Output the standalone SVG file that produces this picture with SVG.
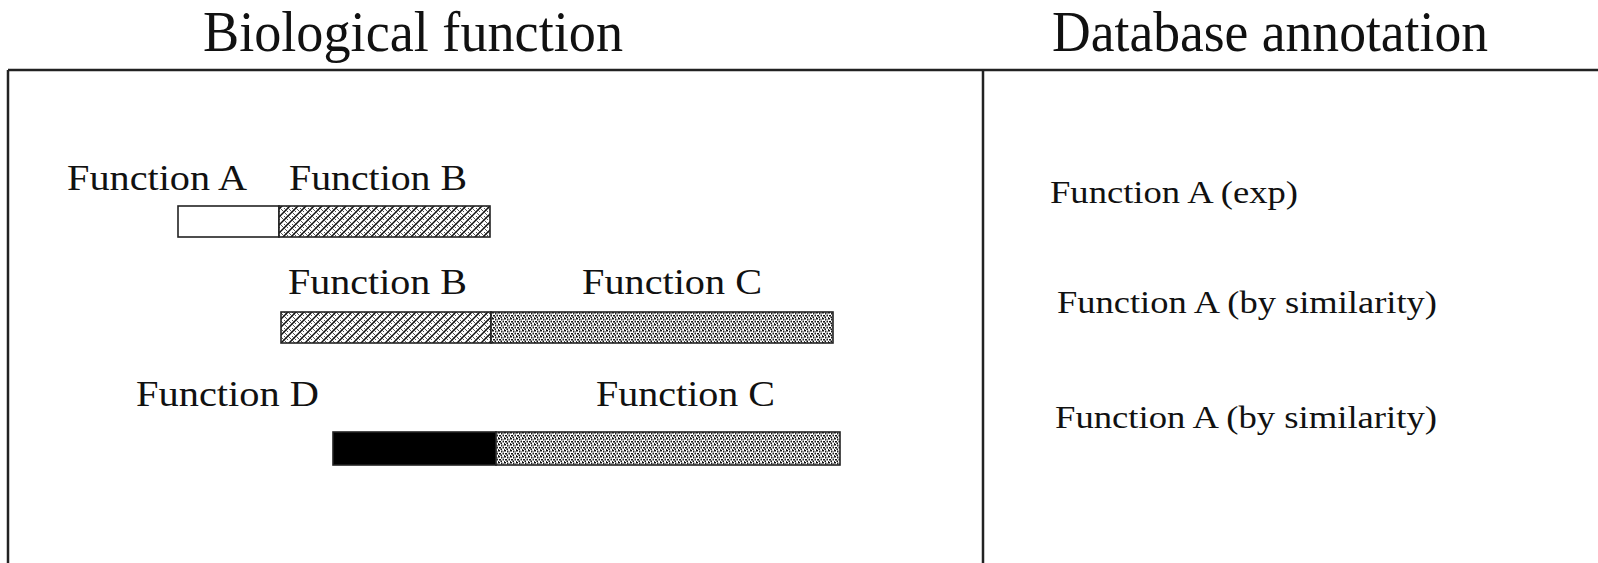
<svg xmlns="http://www.w3.org/2000/svg" width="1598" height="563" viewBox="0 0 1598 563">
  <style>
    .title { font-family: "Liberation Serif", "Times New Roman", serif; font-size: 56px; fill: #111; }
    .lbl { font-family: "Liberation Serif", "Times New Roman", serif; font-size: 35px; fill: #111; }
    .ann { font-family: "Liberation Serif", "Times New Roman", serif; font-size: 32px; fill: #111; }
    .frame { stroke: #222; stroke-width: 2.5; fill: none; }
    .bar { stroke: #222; stroke-width: 1.6; }
  </style>
  <defs>
    <pattern id="hatchB" patternUnits="userSpaceOnUse" width="8" height="8">
      <rect width="8" height="8" fill="#fff"/>
      <path d="M-2,10 L10,-2 M-6,6 L2,-2 M6,10 L10,6" stroke="#111" stroke-width="1.5"/>
      <path d="M0,0 L8,8 M-4,4 L0,8 M4,0 L8,4" stroke="#555" stroke-width="1"/>
    </pattern>
    <pattern id="dotsC" patternUnits="userSpaceOnUse" width="6" height="6">
      <rect width="6" height="6" fill="#fff"/>
      <rect x="0" y="0" width="2" height="1.5" fill="#111"/>
      <rect x="3" y="0.5" width="1.5" height="2" fill="#222"/>
      <rect x="1" y="3" width="2" height="1.5" fill="#111"/>
      <rect x="4.5" y="3" width="1.5" height="1.5" fill="#222"/>
      <rect x="2.5" y="4.5" width="1.5" height="1.5" fill="#111"/>
      <rect x="5" y="1.5" width="1" height="1" fill="#333"/>
      <rect x="0" y="5" width="1" height="1" fill="#333"/>
    </pattern>
  </defs>

  <g id="frame">
    <line class="frame" x1="8" y1="70" x2="1598" y2="70"/>
    <line class="frame" x1="8" y1="70" x2="8" y2="563"/>
    <line class="frame" x1="983" y1="70" x2="983" y2="563"/>
  </g>

  <g id="headers">
    <text class="title" x="203" y="51" textLength="420" lengthAdjust="spacingAndGlyphs">Biological function</text>
    <text class="title" x="1052" y="51" textLength="436" lengthAdjust="spacingAndGlyphs">Database annotation</text>
  </g>

  <g id="protein1">
    <text class="lbl" x="67" y="190" textLength="180" lengthAdjust="spacingAndGlyphs">Function A</text>
    <text class="lbl" x="289" y="190" textLength="178" lengthAdjust="spacingAndGlyphs">Function B</text>
    <rect class="bar" x="178" y="206" width="101" height="31" fill="#fff"/>
    <rect class="bar" x="279" y="206" width="211" height="31" fill="url(#hatchB)"/>
  </g>

  <g id="protein2">
    <text class="lbl" x="288" y="294" textLength="179" lengthAdjust="spacingAndGlyphs">Function B</text>
    <text class="lbl" x="582" y="294" textLength="180" lengthAdjust="spacingAndGlyphs">Function C</text>
    <rect class="bar" x="281" y="312" width="210" height="31" fill="url(#hatchB)"/>
    <rect class="bar" x="491" y="312" width="342" height="31" fill="url(#dotsC)"/>
  </g>

  <g id="protein3">
    <text class="lbl" x="136" y="406" textLength="183" lengthAdjust="spacingAndGlyphs">Function D</text>
    <text class="lbl" x="596" y="406" textLength="179" lengthAdjust="spacingAndGlyphs">Function C</text>
    <rect class="bar" x="333" y="432" width="163" height="33" fill="#000"/>
    <rect class="bar" x="496" y="432" width="344" height="33" fill="url(#dotsC)"/>
  </g>

  <g id="annotations">
    <text class="ann" x="1050" y="203" textLength="248" lengthAdjust="spacingAndGlyphs">Function A (exp)</text>
    <text class="ann" x="1057" y="313" textLength="380" lengthAdjust="spacingAndGlyphs">Function A (by similarity)</text>
    <text class="ann" x="1055" y="428" textLength="382" lengthAdjust="spacingAndGlyphs">Function A (by similarity)</text>
  </g>
</svg>
